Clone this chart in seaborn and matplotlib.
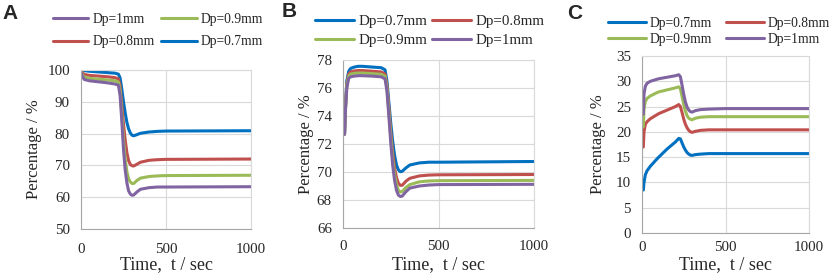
import numpy as np
import pandas as pd
import matplotlib
matplotlib.use("Agg")
import matplotlib.pyplot as plt
import seaborn as sns

# colours (Excel-like palette)
c07 = "#0070c0"
c08 = "#c0504d"
c09 = "#9bbb59"
c10 = "#8064a2"

# panel A - time axis and series
tA = [0, 10, 20, 50, 100, 150, 200, 220, 230, 240, 250, 260, 270, 280, 290, 300, 310, 330, 350, 400, 450, 500, 1000]
a07 = [100, 99.9, 99.8, 99.6, 99.4, 99.2, 99.0, 98.7, 97.5, 94, 90, 86.5, 83.5, 81.5, 80.2, 79.5, 79.3, 79.7, 80.1, 80.5, 80.7, 80.8, 80.9]
a08 = [100, 99.0, 98.6, 98.3, 98.1, 97.9, 97.6, 97.2, 95, 89, 83, 78, 74, 71.5, 70.3, 69.9, 69.8, 70.4, 71.0, 71.6, 71.8, 71.9, 72.0]
a09 = [99.5, 98.3, 97.8, 97.4, 97.1, 96.9, 96.6, 96.2, 93.5, 86, 78, 72, 68, 65.8, 64.8, 64.3, 64.3, 65.3, 66.0, 66.5, 66.7, 66.8, 66.9]
a10 = [99.3, 97.8, 97.0, 96.6, 96.3, 96.0, 95.6, 95.2, 92, 84, 75, 68.5, 64.5, 62, 61, 60.6, 60.7, 61.7, 62.5, 63.0, 63.2, 63.2, 63.3]

# panel B
tB = [8, 12, 20, 30, 40, 60, 80, 100, 150, 200, 220, 230, 240, 250, 260, 270, 280, 290, 300, 310, 330, 350, 400, 450, 500, 1000]
b07 = [72.7, 74.5, 76.5, 77.2, 77.4, 77.5, 77.55, 77.55, 77.5, 77.45, 77.3, 76.5, 75, 73.5, 72.2, 71.2, 70.5, 70.15, 70.02, 70.05, 70.3, 70.5, 70.65, 70.7, 70.7, 70.75]
b08 = [72.7, 74.4, 76.3, 77.0, 77.15, 77.22, 77.25, 77.25, 77.2, 77.15, 77.0, 76.2, 74.6, 72.9, 71.4, 70.3, 69.6, 69.2, 69.05, 69.05, 69.35, 69.55, 69.72, 69.78, 69.8, 69.82]
b09 = [72.7, 74.3, 76.2, 76.85, 77.0, 77.05, 77.07, 77.07, 77.03, 76.98, 76.85, 76.0, 74.3, 72.5, 70.9, 69.8, 69.1, 68.7, 68.58, 68.6, 68.9, 69.1, 69.3, 69.36, 69.38, 69.4]
b10 = [72.7, 74.2, 76.0, 76.7, 76.8, 76.85, 76.88, 76.88, 76.85, 76.8, 76.65, 75.8, 74.0, 72.1, 70.5, 69.4, 68.7, 68.35, 68.25, 68.28, 68.6, 68.85, 69.0, 69.07, 69.1, 69.12]

# panel C
tC = [8, 12, 20, 30, 50, 80, 100, 150, 200, 220, 230, 240, 250, 260, 270, 280, 290, 300, 320, 350, 400, 500, 1000]
k07 = [8.5, 10, 11.5, 12.3, 13.2, 14.3, 15.0, 16.6, 18.0, 18.7, 18.6, 17.8, 17.0, 16.4, 15.9, 15.6, 15.4, 15.35, 15.5, 15.6, 15.7, 15.7, 15.7]
k08 = [17.0, 20.0, 21.5, 22.0, 22.6, 23.2, 23.6, 24.3, 25.0, 25.4, 25.0, 23.8, 22.5, 21.5, 20.8, 20.3, 20.0, 19.9, 20.1, 20.3, 20.4, 20.4, 20.4]
k09 = [21.0, 24.5, 26.0, 26.6, 27.1, 27.6, 27.9, 28.3, 28.7, 28.9, 28.5, 27.0, 25.4, 24.1, 23.2, 22.7, 22.5, 22.4, 22.7, 22.9, 23.0, 23.0, 23.0]
k10 = [23.5, 27.5, 29.0, 29.6, 30.0, 30.3, 30.5, 30.8, 31.1, 31.3, 30.9, 29.2, 27.4, 25.9, 24.9, 24.3, 24.0, 23.9, 24.2, 24.4, 24.5, 24.6, 24.6]

labels = ["Dp=0.7mm", "Dp=0.8mm", "Dp=0.9mm", "Dp=1mm"]
colors = [c07, c08, c09, c10]

sns.set_style("whitegrid")
plt.rcParams["font.family"] = ["Liberation Serif", "DejaVu Serif"]

fig = plt.figure(figsize=(8.3, 2.78), dpi=100)

W, H = 830, 278
def box(l, t, r, b):
    return [l / W, (H - b) / H, (r - l) / W, (b - t) / H]

axA = fig.add_axes(box(81, 70, 251, 229))
axB = fig.add_axes(box(343, 60, 534, 228))
axC = fig.add_axes(box(642, 56, 809, 233))

# ax, time, series, ylim, yticks, legend order, legend centre (px), legend font,
# handle length, col spacing, row spacing, ylabel pad, xtick pad
panels = [
    (axA, tA, [a07, a08, a09, a10], (50, 100), [50, 60, 70, 80, 90, 100], [3, 1, 2, 0], (158, 30.5), 9.8, 2.6, 0.5, 0.7, 4, 10),
    (axB, tB, [b07, b08, b09, b10], (66, 78), [66, 68, 70, 72, 74, 76, 78], [0, 2, 1, 3], (430, 31), 10.8, 2.6, 0.3, 0.35, 2, 9),
    (axC, tC, [k07, k08, k09, k10], (0, 35), [0, 5, 10, 15, 20, 25, 30, 35], [0, 2, 1, 3], (719, 31.5), 9.8, 2.8, 1.0, 0.25, 7, 6),
]

for ax, t, series, ylim, yt, order, legpos, lfs, hl, cs, ls, ylp, xtp in panels:
    for vals, lab, col in zip(series, labels, colors):
        sns.lineplot(x=t, y=vals, ax=ax, color=col, linewidth=2.2, label=lab)
    h, l = ax.get_legend_handles_labels()
    ax.set_xlim(0, 1000)
    ax.set_ylim(*ylim)
    ax.set_xticks([0, 500, 1000])
    ax.set_yticks(yt)
    ax.grid(True, color="#d9d9d9", linewidth=0.8)
    for s in ax.spines.values():
        s.set_color("#d9d9d9")
        s.set_linewidth(0.8)
    ax.spines["left"].set_color("#a6a6a6")
    ax.spines["bottom"].set_color("#a6a6a6")
    ax.tick_params(axis="y", labelsize=10.8, pad=8, length=0)
    ax.tick_params(axis="x", labelsize=10.8, pad=xtp, length=0)
    ax.set_xlabel("Time,  t / sec", fontsize=13)
    ax.xaxis.set_label_coords(0.5, 1 - 256 / H, transform=fig.transFigure)
    ax.xaxis.label.set_x((ax.get_position().x0 + ax.get_position().x1) / 2)
    ax.set_ylabel("Percentage / %", fontsize=12, labelpad=ylp)
    ax.legend([h[i] for i in order], [l[i] for i in order], ncol=2, frameon=False,
              loc="center", bbox_to_anchor=(legpos[0] / W, 1 - legpos[1] / H),
              bbox_transform=fig.transFigure, fontsize=lfs, handlelength=hl,
              columnspacing=cs, handletextpad=0.3, labelspacing=ls)

for lab, x, y in [("A", 2, 4), ("B", 282, 2), ("C", 567, 4)]:
    fig.text(x / W, 1 - y / H, lab, fontsize=15, fontweight="bold",
             family="Liberation Sans", va="top", ha="left")

fig.savefig("out.png", dpi=100)
